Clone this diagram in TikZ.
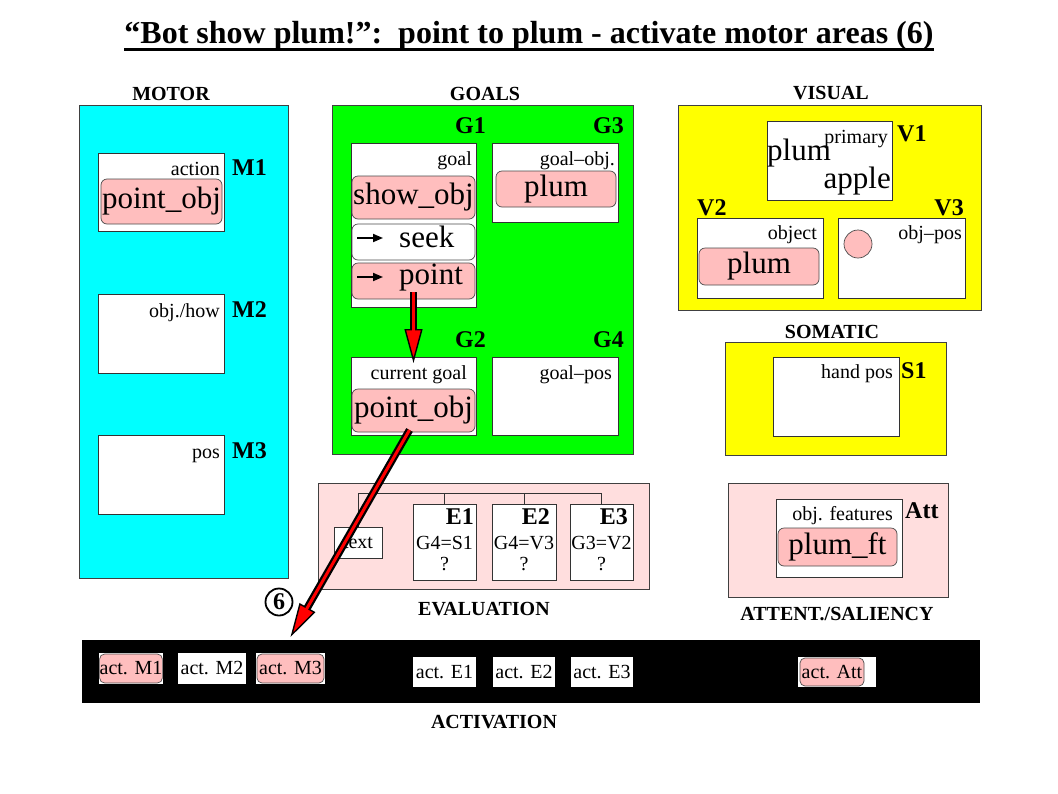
\documentclass[tikz,border=0pt]{standalone}
\usepackage{fontspec}
\setmainfont{Liberation Serif}
\usetikzlibrary{arrows.meta}
\definecolor{motorcyan}{RGB}{0,255,255}
\definecolor{goalgreen}{RGB}{0,255,0}
\definecolor{visyellow}{RGB}{255,255,0}
\definecolor{actpink}{RGB}{255,190,190}
\definecolor{palepink}{RGB}{255,222,222}
\newcommand\lblfont{\fontsize{20}{22}\selectfont}
\newcommand\bigfont{\fontsize{31}{33}\selectfont}
\newcommand\areafont{\bfseries\fontsize{24}{26}\selectfont}
\newcommand\sectfont{\bfseries\fontsize{20}{22}\selectfont}
\newcommand\titlefont{\bfseries\fontsize{32}{34}\selectfont}
\def\cell[#1](#2)(#3,#4)(#5,#6)#7{\node[#1, inner sep=0, outer sep=0, minimum width={(#5-#3)*1pt}, minimum height={(#6-#4)*1pt}] (#2) at ({(#3+#5)/2},{(#4+#6)/2}) {#7};}
\def\redarrow(#1)(#2){\draw[line width=7.5, -{Triangle[length=34pt, width=18pt, line width=1.4pt, fill=red]}] (#1) -- (#2); \draw[line width=3, red, shorten >=31pt] (#1) -- (#2);}

\begin{document}
\begin{tikzpicture}[x=1pt, y=-1pt,
	panel/.style={draw=black!75, line width=0.8},
	box/.style={draw=black!80, fill=white, line width=1},
	pinkbox/.style={draw=black!70, fill=actpink, rounded corners=6, line width=0.7, font=\bigfont},
	whitebox/.style={pinkbox, fill=white},
	lbl/.style={font=\lblfont, anchor=base east, inner sep=0},
	area/.style={font=\areafont, anchor=base west, inner sep=0},
	sect/.style={font=\sectfont, anchor=base, inner sep=0},
	evt/.style={font=\lblfont, anchor=base, inner sep=0},
	actbox/.style={fill=white, font=\lblfont},
	actpinkbox/.style={draw=black!70, fill=actpink, rounded corners=5, line width=0.7, font=\lblfont},
	tinyarrow/.style={line width=1.8, -{Triangle[length=10pt, width=8pt]}}]
	%%%%% START %%%%%
	\useasboundingbox (0,0) rectangle (1058,793);
	
	\node[font=\titlefont, anchor=base, inner sep=0] (title) at (529,43) {``Bot show plum!'':\ \ point to plum - activate motor areas (6)};
	\draw[line width=3] ([yshift=-6.5]title.base west) -- ([yshift=-6.5]title.base east);
	
	% motor
	\node[sect] (motort) at (171,100) {MOTOR};
	\cell[panel, fill=motorcyan](motor)(79,105)(288,578){}
	\cell[box](m1)(98,153)(224,231){}
	\node[lbl] (m1t) at (220,175) {action};
	\node[area] (m1n) at (232,175) {M1};
	\cell[pinkbox](m1v)(101,179)(222,224){point\_obj}
	\cell[box](m2)(98,294)(224,373){}
	\node[lbl] (m2t) at (220,317) {obj./how};
	\node[area] (m2n) at (232,317) {M2};
	\cell[box](m3)(98,435)(224,514){}
	\node[lbl] (m3t) at (220,458) {pos};
	\node[area] (m3n) at (232,458) {M3};
	
	% goals
	\node[sect] (goalst) at (485,100) {GOALS};
	\cell[panel, fill=goalgreen](goals)(332,105)(633,454){}
	\node[area, anchor=base east] (g1n) at (486,133) {G1};
	\node[area, anchor=base east] (g3n) at (624,133) {G3};
	\node[area, anchor=base east] (g2n) at (486,347) {G2};
	\node[area, anchor=base east] (g4n) at (624,347) {G4};
	\cell[box](g1)(351,143)(476,307){}
	\node[lbl] (g1t) at (472,165) {goal};
	\cell[pinkbox](show)(352,176)(475,219){show\_obj}
	\cell[whitebox](seek)(352,224)(475,260){}
	\node[font=\bigfont, anchor=base west, inner sep=0] (seekt) at (399,247) {seek};
	\draw[tinyarrow] ([xshift=5, yshift=4]seek.west) -- ++(26,0);
	\cell[pinkbox](point)(352,263)(475,299){}
	\node[font=\bigfont, anchor=base west, inner sep=0] (pointt) at (399,284) {point};
	\draw[tinyarrow] ([xshift=5, yshift=4]point.west) -- ++(26,0);
	\cell[box](g3)(492,143)(618,222){}
	\node[lbl] (g3t) at (615,165) {goal--obj.};
	\cell[pinkbox](g3v)(496,171)(616,207){plum}
	\cell[box](g2)(351,357)(476,435){}
	\node[lbl] (g2t) at (467,379) {current goal};
	\cell[pinkbox](g2v)(352,389)(475,432){point\_obj}
	\cell[box](g4)(492,357)(618,435){}
	\node[lbl] (g4t) at (612,379) {goal--pos};
	
	% visual
	\node[sect] (vist) at (831,99) {VISUAL};
	\cell[panel, fill=visyellow](visual)(678,105)(981,310){}
	\cell[box](v1)(767,121)(892,200){}
	\node[lbl] (v1t) at (888,143) {primary};
	\node[font=\bigfont, anchor=base west, inner sep=0] (v1a) at (767,160) {plum};
	\node[font=\bigfont, anchor=base east, inner sep=0] (v1b) at (891,188) {apple};
	\node[area] (v1n) at (897,141) {V1};
	\node[area] (v2n) at (697,215) {V2};
	\node[area, anchor=base east] (v3n) at (964,215) {V3};
	\cell[box](v2)(697,218)(823,298){}
	\node[lbl] (v2t) at (817,239) {object};
	\cell[pinkbox](v2v)(699,248)(819,285){plum}
	\cell[box](v3)(838,218)(965,298){}
	\node[lbl] (v3t) at (962,239) {obj--pos};
	\node[circle, draw=black!70, fill=actpink, line width=0.7, minimum size=28, inner sep=0] (v3v) at (858,244) {};
	
	% somatic
	\node[sect] (somt) at (832,338) {SOMATIC};
	\cell[panel, fill=visyellow](somatic)(725,342)(946,455){}
	\cell[box](s1)(773,357)(899,436){}
	\node[lbl] (s1t) at (893,378) {hand pos};
	\node[area] (s1n) at (901,378) {S1};
	
	% attention
	\cell[panel, fill=palepink](attent)(728,483)(948,597){}
	\cell[box](att)(776,499)(902,577){}
	\node[lbl] (attt) at (893,520) {obj. features};
	\node[area] (attn) at (905,518) {Att};
	\cell[pinkbox](attv)(778,528)(897,566){plum\_ft}
	\node[sect] (attentt) at (837,620) {ATTENT./SALIENCY};
	
	% evaluation
	\cell[panel, fill=palepink](eval)(318,483)(649,589){}
	\cell[box](txt)(334,527)(382,558){\lblfont text}
	\cell[box](e1)(413,504)(476,580){}
	\cell[box](e2)(492,504)(556,580){}
	\cell[box](e3)(570,504)(633,580){}
	\coordinate (bus) at (0,493);
	\draw[black!80, line width=0.8] (txt.north) -- (txt.north |- bus) -- (e3.north |- bus) -- (e3.north);
	\draw[black!80, line width=0.8] (e1.north) -- (e1.north |- bus);
	\draw[black!80, line width=0.8] (e2.north) -- (e2.north |- bus);
	\node[area, anchor=base east] (e1n) at (474,524) {E1};
	\node[area, anchor=base east] (e2n) at (550,524) {E2};
	\node[area, anchor=base east] (e3n) at (628,524) {E3};
	\node[evt] (e1a) at (444.5,549) {G4=S1};
	\node[evt] (e1b) at (444.5,570) {?};
	\node[evt] (e2a) at (524,549) {G4=V3};
	\node[evt] (e2b) at (524,570) {?};
	\node[evt] (e3a) at (601.5,549) {G3=V2};
	\node[evt] (e3b) at (601.5,570) {?};
	\node[sect] (evalt) at (484,615) {EVALUATION};
	
	% activation
	\cell[fill=black](actbar)(82,640)(980,703){}
	\cell[actbox](am1)(99,653)(163,684){}
	\cell[actpinkbox](am1v)(100,654)(162,683){act. M1}
	\cell[actbox](am2)(178,653)(246,684){act. M2}
	\cell[actbox](am3)(256,653)(325,684){}
	\cell[actpinkbox](am3v)(257,654)(324,683){act. M3}
	\cell[actbox](ae1)(413,657)(476,687){act. E1}
	\cell[actbox](ae2)(493,657)(555,687){act. E2}
	\cell[actbox](ae3)(571,657)(633,687){act. E3}
	\cell[actbox](aat)(798,657)(876,687){}
	\cell[actpinkbox](aatv)(800,658)(864,686){act. Att}
	\node[sect] (actt) at (494,728) {ACTIVATION};
	
	% arrows
	\redarrow([yshift=7]point.south)([yshift=-6]g2.north)
	\redarrow([xshift=-4, yshift=2]g2v.south)([yshift=16]am3.north)
	\node[circle, draw, line width=1.8, minimum size=27, inner sep=0, font=\areafont] (six) at (279,602) {6};
	
	%%%%% END %%%%%
\end{tikzpicture}
\end{document}
